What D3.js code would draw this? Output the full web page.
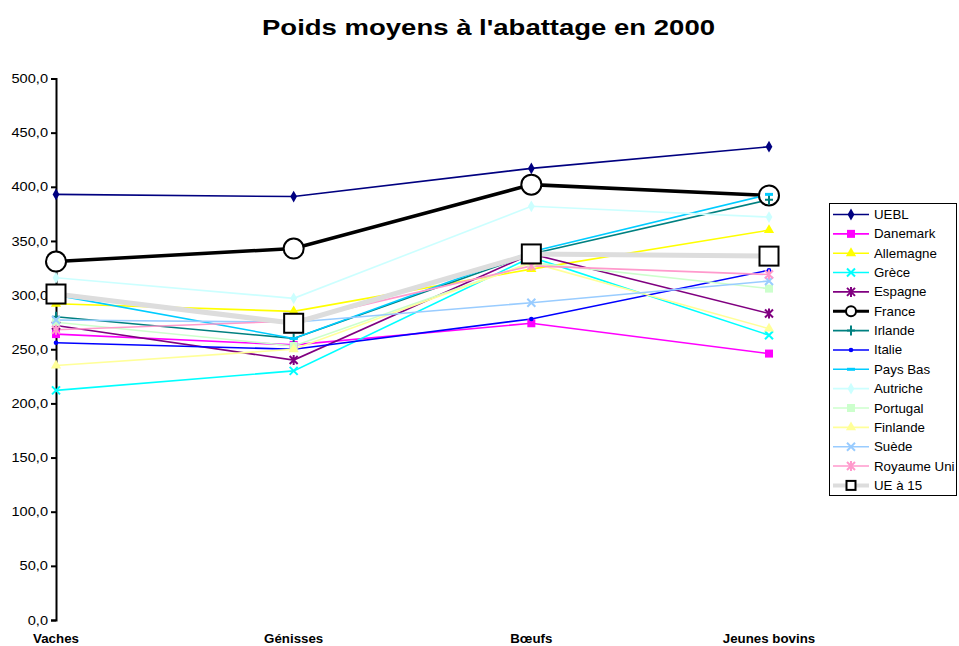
<!DOCTYPE html>
<html><head><meta charset="utf-8">
<script src="https://cdn.jsdelivr.net/npm/d3@7"></script>
<style>body{margin:0;background:#fff;font-family:"Liberation Sans",Arial,sans-serif}</style>
</head><body><svg id="c" width="959" height="646"></svg>
<script>
const categories = ["Vaches","Génisses","Bœufs","Jeunes bovins"];
const seriesNames = ["UEBL","Danemark","Allemagne","Grèce","Espagne","France","Irlande","Italie","Pays Bas","Autriche","Portugal","Finlande","Suède","Royaume Uni","UE à 15"];
const UEBL = [393,391,417,437];
const Danemark = [264,254,274,246];
const Allemagne = [292,285,324,360];
const Grece = [212,230,335,263];
const Espagne = [272,240,338,283];
const France = [331,343,402,392];
const Irlande = [280,260,338,388];
const Italie = [256,250,278,323];
const PaysBas = [300,260,340,393];
const Autriche = [316,297,382,372];
const Portugal = [275,253,330,306];
const Finlande = [235,250,330,269];
const Suede = [277,275,293,313];
const RoyaumeUni = [268,276,327,319];
const UE15 = [301,274,338,336];
const yTicks = [0,50,100,150,200,250,300,350,400,450,500];
const values = [UEBL,Danemark,Allemagne,Grece,Espagne,France,Irlande,Italie,PaysBas,Autriche,Portugal,Finlande,Suede,RoyaumeUni,UE15];

const styles = [
 {c:"#000080",m:"diamond",s:40,w:1.6},
 {c:"#FF00FF",m:"square",s:45,w:1.6},
 {c:"#FFFF00",m:"triangle",s:45,w:1.6},
 {c:"#00FFFF",m:"x",s:50,w:1.6},
 {c:"#800080",m:"star",s:50,w:1.6},
 {c:"#000000",m:"circle",s:0,w:3.5},
 {c:"#008080",m:"plus",s:50,w:1.6},
 {c:"#0000FF",m:"dot",s:15,w:1.6},
 {c:"#00CCFF",m:"dash",s:0,w:1.6},
 {c:"#CCFFFF",m:"diamond",s:40,w:1.6},
 {c:"#CCFFCC",m:"square",s:45,w:1.6},
 {c:"#FFFF99",m:"triangle",s:45,w:1.6},
 {c:"#99CCFF",m:"x",s:50,w:1.6},
 {c:"#FF99CC",m:"star",s:50,w:1.6},
 {c:"#DDDDDD",m:"bigsquare",s:0,w:5}
];

const svg = d3.select("#c");
const x = d3.scalePoint().domain(categories).range([56,769]);
const y = d3.scaleLinear().domain([0,500]).range([620,78.5]);

svg.append("text").attr("x",262).attr("y",35)
  .attr("textLength",453).attr("lengthAdjust","spacingAndGlyphs")
  .style("font-size","21.5px").style("font-weight","bold").text("Poids moyens à l'abattage en 2000");

const ya = svg.append("g").attr("transform","translate(56,0)")
  .call(d3.axisLeft(y).tickValues(yTicks).tickSize(5).tickFormat(d=>d3.format(".1f")(d).replace(".",",")));
ya.select(".domain").attr("stroke","#000").attr("stroke-width",2);
ya.selectAll(".tick line").attr("stroke","#000").attr("stroke-width",2);
ya.selectAll(".tick text").attr("x",-8).style("font-size","12.8px").style("font-family","Liberation Sans, Arial").attr("fill","#000")
  .each(function(){ const L = this.getComputedTextLength(); d3.select(this).attr("textLength",L*1.14).attr("lengthAdjust","spacingAndGlyphs"); });

svg.append("g").selectAll("text").data(categories).join("text")
  .attr("x",d=>x(d)).attr("y",643).attr("text-anchor","middle")
  .style("font-size","13.3px").style("font-weight","bold").text(d=>d);

function drawMarker(g, st, px, py, legend){
  const c = st.c;
  switch(st.m){
    case "diamond": g.append("path").attr("d",d3.symbol(d3.symbolDiamond,st.s)()).attr("transform",`translate(${px},${py})`).attr("fill",c); break;
    case "square": g.append("rect").attr("x",px-4).attr("y",py-4).attr("width",8).attr("height",8).attr("fill",c); break;
    case "triangle": g.append("path").attr("d",d3.symbol(d3.symbolTriangle,st.s)()).attr("transform",`translate(${px},${py})`).attr("fill",c); break;
    case "x": g.append("path").attr("d",`M${px-4},${py-4}L${px+4},${py+4}M${px-4},${py+4}L${px+4},${py-4}`).attr("stroke",c).attr("stroke-width",2); break;
    case "star": g.append("path").attr("d",`M${px-4},${py-4}L${px+4},${py+4}M${px-4},${py+4}L${px+4},${py-4}M${px},${py-5}L${px},${py+5}`).attr("stroke",c).attr("stroke-width",2); break;
    case "plus": g.append("path").attr("d",`M${px},${py-5}L${px},${py+5}M${px-4},${py}L${px+4},${py}`).attr("stroke",c).attr("stroke-width",2); break;
    case "dot": g.append("circle").attr("cx",px).attr("cy",py).attr("r",2.3).attr("fill",c); break;
    case "dash": g.append("path").attr("d",`M${px-4},${py}L${px+4},${py}`).attr("stroke",c).attr("stroke-width",3); break;
    case "circle": g.append("circle").attr("cx",px).attr("cy",py).attr("r",legend?5:10).attr("fill","#fff").attr("stroke","#000").attr("stroke-width",2); break;
    case "bigsquare": { const h = legend?4.5:9.5; g.append("rect").attr("x",px-h).attr("y",py-h).attr("width",2*h).attr("height",2*h).attr("fill","#fff").attr("stroke","#000").attr("stroke-width",2); break; }
  }
}

const line = d3.line().x((d,i)=>x(categories[i])).y(d=>y(d));
const plot = svg.append("g");
values.forEach((vals,k)=>{
  plot.append("path").datum(vals).attr("d",line).attr("fill","none")
    .attr("stroke",styles[k].c).attr("stroke-width",styles[k].w);
});
values.forEach((vals,k)=>{
  const g = plot.append("g");
  vals.forEach((v,i)=>drawMarker(g, styles[k], x(categories[i]), y(v), false));
});

// legend
const lg = svg.append("g");
lg.append("rect").attr("x",829.5).attr("y",203.5).attr("width",127).attr("height",292).attr("fill","#fff").attr("stroke","#000").attr("stroke-width",1);
seriesNames.forEach((n,i)=>{
  const yy = 214.5 + i*19.35;
  const st = styles[i];
  lg.append("line").attr("x1",833).attr("x2",869).attr("y1",yy).attr("y2",yy).attr("stroke",st.c).attr("stroke-width",st.w===5?4:st.w===3.5?3:1.6);
  drawMarker(lg, st, 851, yy, true);
  lg.append("text").attr("x",874).attr("y",yy+4.5).style("font-size","13.3px").text(n);
});
</script></body></html>
